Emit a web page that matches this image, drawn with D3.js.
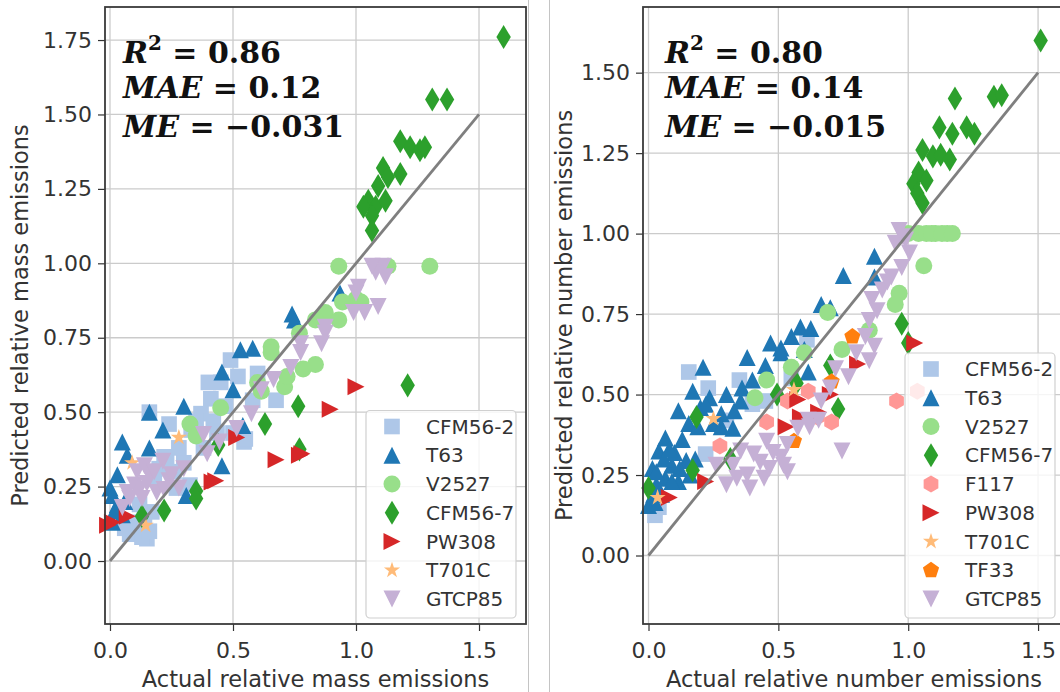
<!DOCTYPE html>
<html>
<head>
<meta charset="utf-8">
<script src="https://cdn.jsdelivr.net/npm/d3@7"></script>
<style>
  body { margin: 0; background: #fff; }
  svg { display: block; }
</style>
</head>
<body>
<svg id="fig" width="1060" height="692"></svg>
<script>
// ---------- engine families, colours and marker shapes ----------
const engineNames  = ["CFM56-2", "T63", "V2527", "CFM56-7", "F117", "PW308", "T701C", "TF33", "GTCP85"];
const engineColors = ["#aec7e8", "#1f77b4", "#98df8a", "#2ca02c", "#ff9896", "#d62728", "#ffbb78", "#ff7f0e", "#c5b0d5"];
const engineShapes = ["square", "triUp", "circle", "thinDiamond", "hexagon", "triRight", "star", "pentagon", "triDown"];

// ---------- relative mass emissions: [actual, predicted] ----------
const massCFM562 = [[0.49,0.675],[0.60,0.63],[0.41,0.545],[0.675,0.54],[0.16,0.50],[0.37,0.495],[0.24,0.46],
  [0.545,0.40],[0.38,0.38],[0.27,0.245],[0.20,0.31],[0.13,0.11],[0.08,0.09],[0.15,0.075],[0.10,0.13],[0.17,0.165],
  [0.325,0.255],[0.435,0.43],[0.45,0.60],[0.52,0.62],[0.22,0.35],[0.30,0.33],[0.12,0.19],[0.14,0.15],[0.35,0.47],
  [0.47,0.52],[0.33,0.44],[0.26,0.30],[0.09,0.12],[0.11,0.10],[0.13,0.08],[0.16,0.10],[0.06,0.11],[0.18,0.28],
  [0.23,0.33],[0.28,0.38],[0.42,0.47],[0.50,0.43],[0.55,0.41],[0.40,0.60],[0.58,0.54]];
const massT63 = [[0.74,0.83],[0.75,0.81],[0.935,0.90],[0.53,0.71],[0.58,0.715],[0.455,0.635],[0.50,0.575],[0.30,0.52],
  [0.16,0.50],[0.54,0.455],[0.215,0.44],[0.05,0.40],[0.16,0.38],[0.07,0.355],[0.455,0.32],[0.03,0.29],[0.0,0.245],
  [0.01,0.22],[0.31,0.22],[0.03,0.19],[0.05,0.155],[0.01,0.13],[0.02,0.17],[0.06,0.20]];
const massV2527 = [[0.93,0.99],[1.30,0.99],[1.13,0.99],[1.0,0.88],[0.945,0.87],[1.02,0.87],[0.875,0.835],[0.835,0.81],
  [0.93,0.81],[0.77,0.765],[0.655,0.72],[0.655,0.70],[0.835,0.66],[0.785,0.645],[0.615,0.57],[0.71,0.585],[0.45,0.515],
  [0.325,0.46],[0.35,0.42],[0.72,0.62],[0.60,0.60]];
const massCFM567 = [[1.60,1.76],[1.31,1.55],[1.37,1.55],[1.18,1.41],[1.22,1.39],[1.26,1.38],[1.28,1.39],[1.18,1.30],
  [1.11,1.32],[1.13,1.29],[1.09,1.26],[1.05,1.21],[1.03,1.19],[1.08,1.19],[1.12,1.21],[1.065,1.16],[1.065,1.11],
  [1.21,0.59],[0.765,0.52],[0.63,0.46],[0.77,0.375],[0.35,0.235],[0.35,0.21],[0.22,0.17],[0.44,0.39],[0.13,0.15]];
const massPW308 = [[1.0,0.585],[0.895,0.51],[0.675,0.34],[0.77,0.355],[0.515,0.415],[0.415,0.265],[0.01,0.13],
  [-0.01,0.12],[0.07,0.15],[0.43,0.27],[0.78,0.36]];
const massT701C = [[0.09,0.33],[0.28,0.415],[0.145,0.12]];
const massGTCP85 = [[1.08,0.97],[1.11,0.99],[1.12,0.955],[1.065,0.99],[1.01,0.92],[1.0,0.90],[1.09,0.855],[1.035,0.835],
  [0.99,0.835],[0.875,0.785],[0.875,0.765],[0.775,0.73],[0.86,0.73],[0.775,0.70],[0.735,0.65],[0.665,0.61],[0.615,0.575],
  [0.575,0.495],[0.515,0.445],[0.38,0.425],[0.395,0.36],[0.30,0.31],[0.215,0.335],[0.16,0.29],[0.10,0.255],[0.08,0.21],
  [0.13,0.21],[0.05,0.18],[0.19,0.23],[0.24,0.27],[0.28,0.245],[0.445,0.40],[0.15,0.26],[0.12,0.24],[0.11,0.30],
  [0.14,0.32],[0.18,0.30],[0.07,0.23],[0.22,0.24],[0.25,0.29]];

// ---------- relative number emissions: [actual, predicted] ----------
const numCFM562 = [[0.155,0.57],[0.22,0.315],[0.025,0.125],[0.35,0.545],[0.61,0.67],[0.04,0.15],[0.40,0.47],
  [0.55,0.55],[0.23,0.52],[0.30,0.42],[0.45,0.48]];
const numT63 = [[0.87,0.93],[0.75,0.87],[0.87,0.865],[0.665,0.78],[0.70,0.77],[0.585,0.71],[0.625,0.705],[0.51,0.645],
  [0.21,0.585],[0.51,0.63],[0.60,0.64],[0.615,0.57],[0.115,0.45],[0.235,0.49],[0.30,0.50],[0.355,0.48],[0.25,0.41],
  [0.155,0.41],[0.325,0.395],[0.065,0.365],[0.04,0.325],[0.09,0.28],[0.145,0.295],[0.015,0.27],[0.065,0.24],
  [0.115,0.23],[0.0,0.155],[0.025,0.165],[0.40,0.545],[0.38,0.615],[0.47,0.66],[0.55,0.68],[0.03,0.22],[0.10,0.32],
  [0.20,0.46],[0.28,0.44],[0.45,0.59],[0.03,0.26],[0.06,0.30],[0.08,0.33],[0.12,0.27],[0.16,0.25],[0.18,0.30],
  [0.05,0.19],[0.09,0.23],[0.02,0.19],[0.13,0.36],[0.19,0.40],[0.33,0.45],[0.36,0.52],[0.28,0.40],[0.17,0.51],[0.22,0.47]];
const numV2527 = [[1.105,1.0],[1.15,1.0],[1.04,1.0],[1.06,0.90],[0.965,0.815],[0.55,0.585],[0.455,0.545],[0.41,0.49],
  [0.745,0.64],[0.69,0.755],[0.85,0.70],[0.95,0.78],[0.60,0.63],[1.0,1.0],[1.07,1.0],[1.09,1.0],[1.13,1.0],[1.17,1.0]];
const numCFM567 = [[1.51,1.60],[1.18,1.42],[1.33,1.425],[1.36,1.43],[1.12,1.33],[1.17,1.31],[1.225,1.33],[1.255,1.31],
  [1.055,1.26],[1.095,1.24],[1.125,1.245],[1.16,1.23],[1.04,1.19],[1.02,1.155],[1.07,1.165],[1.035,1.125],[1.055,1.095],
  [0.975,0.72],[1.0,0.66],[0.185,0.43],[0.17,0.265],[0.315,0.30],[0.0,0.21],[0.57,0.535],[0.495,0.50],[0.73,0.455],
  [0.70,0.59]];
const numF117 = [[0.955,0.48],[1.035,0.51],[0.455,0.415],[0.275,0.34],[0.705,0.415],[0.615,0.51],[0.535,0.48],[0.65,0.43]];
const numPW308 = [[1.025,0.66],[0.805,0.595],[0.575,0.485],[0.655,0.445],[0.585,0.43],[0.22,0.23],[0.08,0.18],
  [0.70,0.50],[0.53,0.40]];
const numT701C = [[0.035,0.18],[0.25,0.425],[0.56,0.515]];
const numTF33 = [[0.785,0.68],[0.705,0.54],[0.56,0.355]];
const numGTCP85 = [[0.965,1.01],[0.99,0.98],[1.005,0.94],[0.975,0.895],[0.935,0.865],[0.90,0.825],[0.86,0.795],
  [0.85,0.73],[0.835,0.68],[0.87,0.65],[0.85,0.605],[0.72,0.58],[0.77,0.555],[0.665,0.48],[0.655,0.42],[0.745,0.325],
  [0.575,0.395],[0.535,0.345],[0.455,0.355],[0.51,0.305],[0.465,0.27],[0.405,0.315],[0.325,0.28],[0.38,0.25],
  [0.34,0.24],[0.39,0.21],[0.445,0.24],[0.535,0.26],[0.26,0.28],[0.355,0.325],[0.615,0.42],[0.80,0.63],[0.95,0.97],
  [0.70,0.52],[0.62,0.40],[0.30,0.22],[0.43,0.29],[0.48,0.32],[0.52,0.28],[0.92,0.85],[0.88,0.76],[0.98,0.99]];

// ---------- axis ticks and fit statistics ----------
const xTicks = [0, 0.5, 1.0, 1.5];
const massYTicks = [0, 0.25, 0.5, 0.75, 1.0, 1.25, 1.5, 1.75];
const numYTicks = [0, 0.25, 0.5, 0.75, 1.0, 1.25, 1.5];
const massStats = { r2: "0.86", mae: "0.12", me: "\u22120.031" };
const numStats  = { r2: "0.80", mae: "0.14", me: "\u22120.015" };
const identityLine = [[0, 0], [1.5, 1.5]];

// ---------- marker outlines (matplotlib-like proportions) ----------
function polygon(n, r, rot) {
  const pts = d3.range(n).map(i => {
    const a = rot + i * 2 * Math.PI / n;
    return [r * Math.cos(a), r * Math.sin(a)];
  });
  return "M" + pts.map(p => p[0].toFixed(2) + "," + p[1].toFixed(2)).join("L") + "Z";
}
function markerPath(shape, ms) {
  const h = ms / 2;
  switch (shape) {
    case "square": { const s = ms * 0.46; return `M${-s},${-s}H${s}V${s}H${-s}Z`; }
    case "circle": return `M${h},0A${h},${h} 0 1,1 ${-h},0A${h},${h} 0 1,1 ${h},0Z`;
    case "triUp": return `M0,${-h}L${h},${h}L${-h},${h}Z`;
    case "triDown": return `M0,${h}L${h},${-h}L${-h},${-h}Z`;
    case "triRight": return `M${h},0L${-h},${-h}L${-h},${h}Z`;
    case "thinDiamond": { const v = ms * 0.707, w = v * 0.6; return `M0,${-v}L${w},0L0,${v}L${-w},0Z`; }
    case "hexagon": return polygon(6, h, -Math.PI / 2);
    case "pentagon": return polygon(5, h, -Math.PI / 2);
    case "star": {
      const pts = d3.range(10).map(i => {
        const r = i % 2 === 0 ? h : h * 0.381966;
        const a = -Math.PI / 2 + i * Math.PI / 5;
        return [r * Math.cos(a), r * Math.sin(a)];
      });
      return "M" + pts.map(p => p[0].toFixed(2) + "," + p[1].toFixed(2)).join("L") + "Z";
    }
  }
}

const svg = d3.select("#fig");
const MS = 17;
const tickFont = "DejaVu Sans, sans-serif";

// thin borders between the two sub-figures
svg.append("line").attr("x1", 528.5).attr("x2", 528.5).attr("y1", 0).attr("y2", 692)
  .attr("stroke", "#c4c4c4").attr("stroke-width", 1);
svg.append("line").attr("x1", 549.5).attr("x2", 549.5).attr("y1", 0).attr("y2", 692)
  .attr("stroke", "#c4c4c4").attr("stroke-width", 1);

function drawPanel(cfg) {
  const g = svg.append("g");
  const x = d3.scaleLinear().domain(cfg.xDomain).range([cfg.box.left, cfg.box.right]);
  const y = d3.scaleLinear().domain(cfg.yDomain).range([cfg.box.bottom, cfg.box.top]);

  // grid
  g.append("g").selectAll("line").data(xTicks).join("line")
    .attr("x1", d => x(d)).attr("x2", d => x(d))
    .attr("y1", cfg.box.top).attr("y2", cfg.box.bottom)
    .attr("stroke", "#cbcbcb").attr("stroke-width", 1.3);
  g.append("g").selectAll("line").data(cfg.yTicks).join("line")
    .attr("x1", cfg.box.left).attr("x2", cfg.box.right)
    .attr("y1", d => y(d)).attr("y2", d => y(d))
    .attr("stroke", "#cbcbcb").attr("stroke-width", 1.3);

  // points, series by series
  cfg.series.forEach(s => {
    const i = engineNames.indexOf(s.name);
    g.append("g").selectAll("path").data(s.values).join("path")
      .attr("transform", d => `translate(${x(d[0])},${y(d[1])})`)
      .attr("d", markerPath(engineShapes[i], MS))
      .attr("fill", engineColors[i]);
  });

  // 1:1 reference line
  g.append("path").datum(identityLine)
    .attr("d", d3.line().x(d => x(d[0])).y(d => y(d[1])))
    .attr("stroke", "#7f7f7f").attr("stroke-width", 2.8).attr("fill", "none");

  // axes
  const xAxis = g.append("g").attr("transform", `translate(0,${cfg.box.bottom})`)
    .call(d3.axisBottom(x).tickValues(xTicks).tickFormat(d3.format(".1f")).tickSize(7).tickPadding(11));
  const yAxis = g.append("g").attr("transform", `translate(${cfg.box.left},0)`)
    .call(d3.axisLeft(y).tickValues(cfg.yTicks).tickFormat(d3.format(".2f")).tickSize(7).tickPadding(6));
  [xAxis, yAxis].forEach(a => {
    a.select(".domain").remove();
    a.selectAll(".tick line").attr("stroke", "#333").attr("stroke-width", 1.2);
    a.selectAll(".tick text").attr("font-family", tickFont).attr("font-size", 22).attr("fill", "#333");
  });

  // frame
  g.append("rect").attr("x", cfg.box.left).attr("y", cfg.box.top)
    .attr("width", cfg.box.right - cfg.box.left).attr("height", cfg.box.bottom - cfg.box.top)
    .attr("fill", "none").attr("stroke", "#3a3a3a").attr("stroke-width", 1.8);

  // axis titles
  g.append("text").attr("x", (cfg.box.left + cfg.box.right) / 2).attr("y", 687)
    .attr("text-anchor", "middle").attr("font-family", tickFont).attr("font-size", 22.5).attr("fill", "#333")
    .text(cfg.xLabel);
  g.append("text").attr("transform", `translate(${cfg.yLabelX},${(cfg.box.top + cfg.box.bottom) / 2}) rotate(-90)`)
    .attr("text-anchor", "middle").attr("font-family", tickFont).attr("font-size", 22.5).attr("fill", "#333")
    .text(cfg.yLabel);

  // fit statistics
  const st = g.append("g").attr("font-family", "DejaVu Serif, serif").attr("font-weight", "bold")
    .attr("font-size", 30).attr("fill", "#111");
  const t1 = st.append("text").attr("x", cfg.statsX).attr("y", 63);
  t1.append("tspan").attr("font-style", "italic").text("R");
  t1.append("tspan").attr("font-size", 20).attr("dy", -13).text("2");
  t1.append("tspan").attr("dy", 13).text(" = " + cfg.stats.r2);
  const t2 = st.append("text").attr("x", cfg.statsX).attr("y", 98);
  t2.append("tspan").attr("font-style", "italic").text("MAE");
  t2.append("tspan").text(" = " + cfg.stats.mae);
  const t3 = st.append("text").attr("x", cfg.statsX).attr("y", 137);
  t3.append("tspan").attr("font-style", "italic").text("ME");
  t3.append("tspan").text(" = " + cfg.stats.me);

  // legend
  const n = cfg.series.length, step = 28.75;
  const lgBottom = cfg.box.bottom - 6;
  const lastY = lgBottom - 19, firstY = lastY - (n - 1) * step;
  const lgTop = firstY - 16;
  const lgRight = cfg.legendRight, lgLeft = lgRight - 150;
  const lg = g.append("g");
  lg.append("rect").attr("x", lgLeft).attr("y", lgTop).attr("width", lgRight - lgLeft)
    .attr("height", lgBottom - lgTop).attr("rx", 4)
    .attr("fill", "#fff").attr("fill-opacity", 0.8).attr("stroke", "#d0d0d0").attr("stroke-width", 1.2);
  cfg.series.forEach((s, k) => {
    const i = engineNames.indexOf(s.name);
    const cy = firstY + k * step;
    lg.append("path").attr("transform", `translate(${lgLeft + 26},${cy})`)
      .attr("d", markerPath(engineShapes[i], MS)).attr("fill", engineColors[i]);
    lg.append("text").attr("x", lgLeft + 60).attr("y", cy).attr("dy", "0.36em")
      .attr("font-family", tickFont).attr("font-size", 20).attr("fill", "#333").text(s.name);
  });
}

drawPanel({
  box: { left: 105, right: 526, top: 7, bottom: 624 },
  xDomain: [-0.0203, 1.691],
  yDomain: [-0.2116, 1.861],
  yTicks: massYTicks,
  xLabel: "Actual relative mass emissions",
  yLabel: "Predicted relative mass emissions",
  yLabelX: 28,
  statsX: 123,
  stats: massStats,
  legendRight: 516,
  series: [
    { name: "CFM56-2", values: massCFM562 },
    { name: "T63", values: massT63 },
    { name: "V2527", values: massV2527 },
    { name: "CFM56-7", values: massCFM567 },
    { name: "PW308", values: massPW308 },
    { name: "T701C", values: massT701C },
    { name: "GTCP85", values: massGTCP85 }
  ]
});

drawPanel({
  box: { left: 643, right: 1065, top: 7, bottom: 624 },
  xDomain: [-0.0212, 1.6037],
  yDomain: [-0.2128, 1.704],
  yTicks: numYTicks,
  xLabel: "Actual relative number emissions",
  yLabel: "Predicted relative number emissions",
  yLabelX: 572,
  statsX: 665,
  stats: numStats,
  legendRight: 1055,
  series: [
    { name: "CFM56-2", values: numCFM562 },
    { name: "T63", values: numT63 },
    { name: "V2527", values: numV2527 },
    { name: "CFM56-7", values: numCFM567 },
    { name: "F117", values: numF117 },
    { name: "PW308", values: numPW308 },
    { name: "T701C", values: numT701C },
    { name: "TF33", values: numTF33 },
    { name: "GTCP85", values: numGTCP85 }
  ]
});
</script>
</body>
</html>
